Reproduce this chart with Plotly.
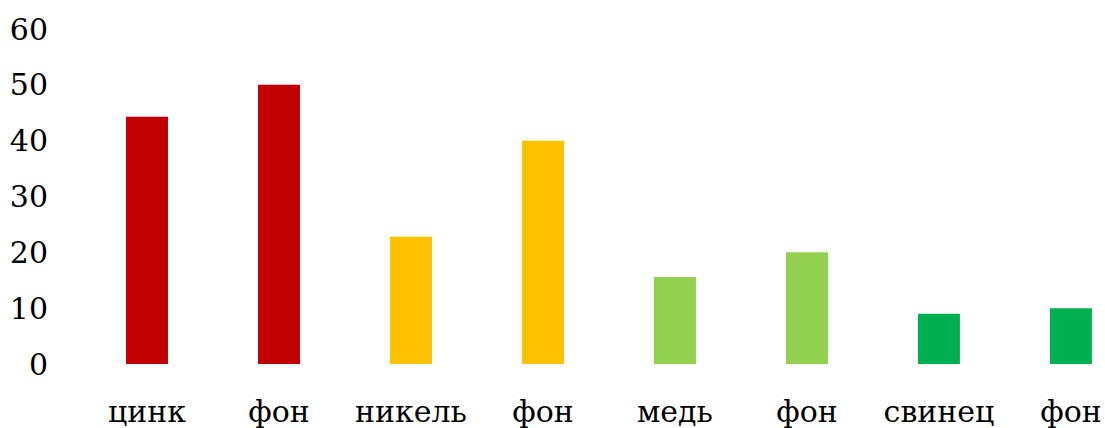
import plotly.graph_objects as go

# Metal content vs. background level
categories = ["цинк", "фон", "никель", "фон", "медь", "фон", "свинец", "фон"]
values = [44.3, 50, 22.8, 40, 15.6, 20, 9.0, 10]
bar_colors = ["#C00000", "#C00000", "#FFC000", "#FFC000",
              "#92D050", "#92D050", "#00B050", "#00B050"]
y_ticks = [0, 10, 20, 30, 40, 50, 60]

positions = list(range(len(categories)))

fig = go.Figure(
    go.Bar(
        x=positions,
        y=values,
        marker=dict(color=bar_colors, line=dict(width=0)),
        width=0.318,
        hoverinfo="skip",
    )
)

font_family = "DejaVu Serif"
font_size = 30

fig.update_layout(
    width=1105,
    height=428,
    margin=dict(l=81, r=0, t=29, b=64),
    paper_bgcolor="white",
    plot_bgcolor="white",
    showlegend=False,
    font=dict(family=font_family, size=font_size, color="black"),
)

fig.update_xaxes(
    range=[-0.5, 7.258],
    tickmode="array",
    tickvals=positions,
    ticktext=categories,
    showgrid=False,
    zeroline=False,
    showline=False,
    ticks="",
    ticklabelstandoff=27,
    tickfont=dict(family=font_family, size=font_size, color="black"),
)

fig.update_yaxes(
    range=[0, 60],
    tickmode="array",
    tickvals=y_ticks,
    showgrid=False,
    zeroline=False,
    showline=False,
    ticks="",
    ticklabelstandoff=32,
    tickfont=dict(family=font_family, size=font_size, color="black"),
)

fig.write_html("out.html")
